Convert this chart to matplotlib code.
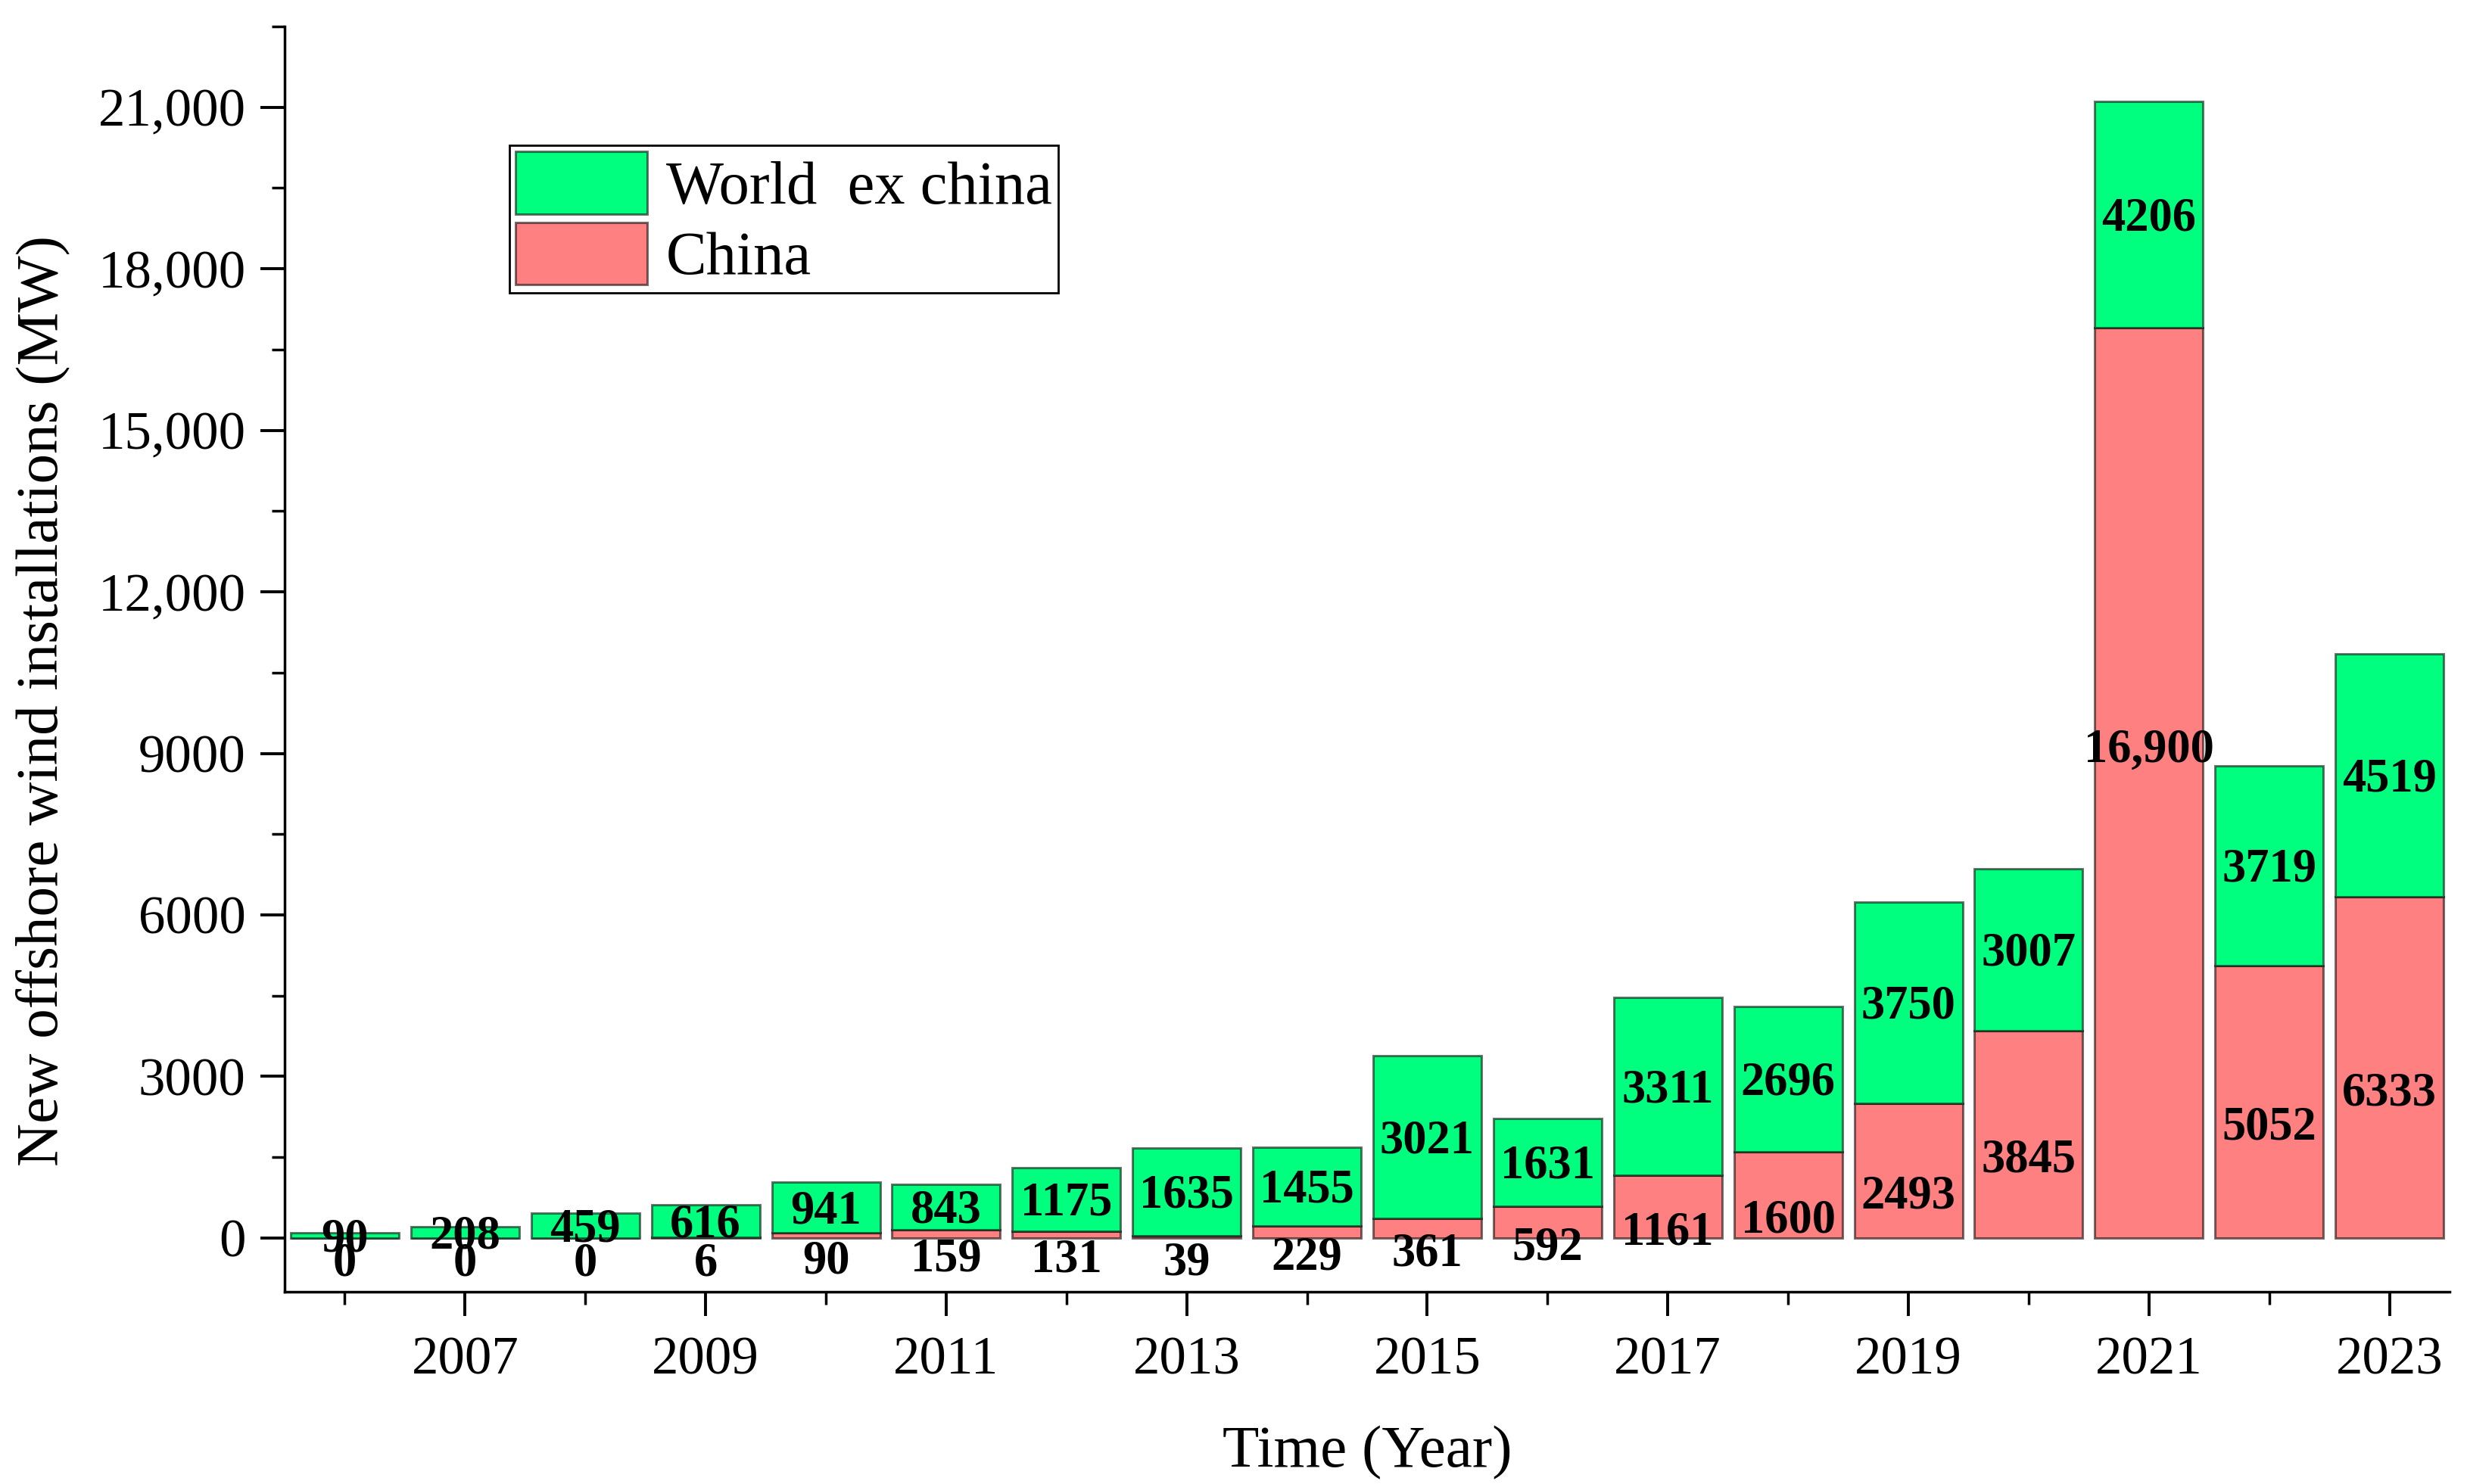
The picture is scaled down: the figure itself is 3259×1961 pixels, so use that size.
import matplotlib.pyplot as plt
from matplotlib.ticker import FuncFormatter, MultipleLocator
import numpy as np

years = list(range(2006, 2024))
china = [0, 0, 0, 6, 90, 159, 131, 39, 229, 361, 592, 1161, 1600, 2493, 3845, 16900, 5052, 6333]
world_ex_china = [90, 208, 459, 616, 941, 843, 1175, 1635, 1455, 3021, 1631, 3311, 2696, 3750, 3007, 4206, 3719, 4519]

plt.rcParams['font.family'] = ['Liberation Serif', 'DejaVu Serif']

W, H = 3259, 1961
fig = plt.figure(figsize=(W / 100, H / 100), dpi=100)
ax = fig.add_axes([376 / W, 1 - 1707 / H, 2860 / W, 1672 / H])

edge = (0, 0, 0, 0.55)
x = np.array(years)
b1 = ax.bar(x, china, width=0.9, color='#FF8080', edgecolor=edge, linewidth=2.2, label='China')
b2 = ax.bar(x, world_ex_china, width=0.9, bottom=china, color='#00FF7F', edgecolor=edge,
            linewidth=2.2, label='World  ex china')


def fmt(v):
    return f'{v:,}' if v >= 10000 else str(v)


# labels: world centred in its segment, china just below segment centre
for xi, c, w in zip(x, china, world_ex_china):
    ax.annotate(fmt(w), (xi, c + w / 2), xytext=(0, -4), textcoords='offset points',
                ha='center', va='center', fontsize=45, fontweight='bold')
    off = 31 if c > 10000 else -25
    ax.annotate(fmt(c), (xi, c / 2), xytext=(0, off), textcoords='offset points',
                ha='center', va='center', fontsize=45, fontweight='bold')

ax.set_xlim(2005.5, 2023.5)
ax.set_ylim(-1000, 22500)
ax.set_xticks(range(2007, 2024, 2))
ax.set_xticks(range(2006, 2024, 2), minor=True)
ax.yaxis.set_major_locator(MultipleLocator(3000))
ax.yaxis.set_minor_locator(MultipleLocator(1500))
ax.yaxis.set_major_formatter(FuncFormatter(lambda v, p: fmt(int(v))))

for s in ['top', 'right']:
    ax.spines[s].set_visible(False)
for s in ['left', 'bottom']:
    ax.spines[s].set_linewidth(2.5)

ax.tick_params(axis='both', which='major', direction='out', length=23, width=2.8, labelsize=51)
ax.tick_params(axis='both', which='minor', direction='out', length=12, width=2.5)
ax.tick_params(axis='x', which='major', pad=19)
ax.tick_params(axis='y', which='major', pad=14)

fig.text(56 / W, 1 - 926 / H, 'New offshore wind installations (MW)', rotation=90,
         ha='center', va='center', fontsize=57)
fig.text(1806 / W, 1 - 1920 / H, 'Time (Year)', ha='center', va='center', fontsize=57)

leg = ax.legend(handles=[b2, b1], loc='upper left', bbox_to_anchor=(0.104, 0.906),
                borderaxespad=0, fontsize=58, fancybox=False, framealpha=1,
                edgecolor='black', handlelength=2.16, handleheight=1.2,
                handletextpad=0.3, labelspacing=0.1, borderpad=0.1)
leg.get_frame().set_linewidth(2)

fig.savefig('out.png', dpi=100)
